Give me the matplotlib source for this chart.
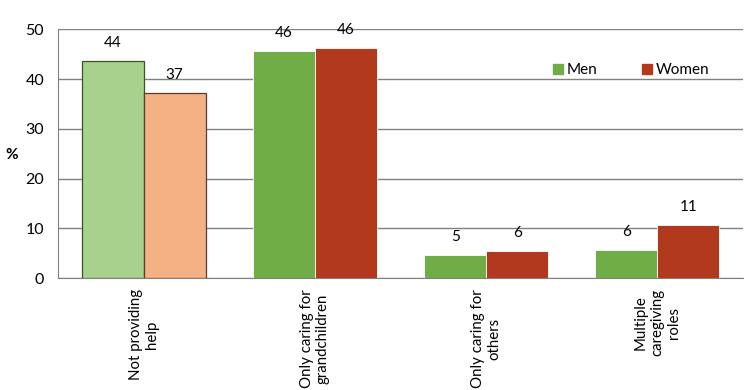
import matplotlib
matplotlib.use("Agg")
import matplotlib.pyplot as plt
import numpy as np
from matplotlib.lines import Line2D

plt.rcParams['font.family'] = ['Lato', 'DejaVu Sans']

categories = ["Not providing\nhelp", "Only caring for\ngrandchildren",
              "Only caring for\nothers", "Multiple\ncaregiving\nroles"]
men = [43.7, 45.6, 4.7, 5.7]
women = [37.1, 46.2, 5.5, 10.6]
men_labels = ["44", "46", "5", "6"]
women_labels = ["37", "46", "6", "11"]
yticks = [0, 10, 20, 30, 40, 50]

men_colors = ["#A9D18E", "#70AD47", "#70AD47", "#70AD47"]
women_colors = ["#F4B183", "#B0391E", "#B0391E", "#B0391E"]
men_edges = ["#375623", "white", "white", "white"]
women_edges = ["#5a3a2a", "white", "white", "white"]
edge_w = [0.9, 0.6, 0.6, 0.6]

fig = plt.figure(figsize=(7.56, 3.90), dpi=100)
ax = fig.add_axes([0.0767, 0.287, 0.906, 0.638])

x = np.arange(len(categories))
w = 0.362
for i in range(len(categories)):
    ax.bar(x[i] - w / 2, men[i], w, color=men_colors[i], edgecolor=men_edges[i],
           linewidth=edge_w[i], zorder=3)
    ax.bar(x[i] + w / 2, women[i], w, color=women_colors[i], edgecolor=women_edges[i],
           linewidth=edge_w[i], zorder=3)
    ax.annotate(men_labels[i], (x[i] - w / 2, men[i]), xytext=(0, 13),
                textcoords="offset points", ha="center", va="center", fontsize=11)
    ax.annotate(women_labels[i], (x[i] + w / 2, women[i]), xytext=(0, 13),
                textcoords="offset points", ha="center", va="center", fontsize=11)

ax.set_xlim(-0.5, 3.5)
ax.set_ylim(0, 50)
ax.set_yticks(yticks)
ax.set_yticklabels([str(t) for t in yticks], fontsize=11.5)
ax.set_xticks(x)
ax.set_xticklabels(categories, rotation=90, ha="center", va="top",
                   multialignment="center", fontsize=10.8, linespacing=1.2)
ax.tick_params(axis="y", length=0, pad=10)
ax.tick_params(axis="x", length=0, pad=8)
ax.yaxis.grid(True, color="#808080", linewidth=1.0, zorder=0)
ax.set_axisbelow(True)
for s in ["top", "right"]:
    ax.spines[s].set_visible(False)
ax.spines["left"].set_color("#808080")
ax.spines["bottom"].set_color("#808080")

fig.text(12 / 756, 1 - 155 / 390, "%", fontsize=11, fontweight="bold",
         ha="center", va="center")

handles = [Line2D([], [], marker="s", linestyle="none", markersize=7, color="#70AD47"),
           Line2D([], [], marker="s", linestyle="none", markersize=7, color="#B0391E")]
ax.legend(handles, ["Men", "Women"], loc="center", bbox_to_anchor=(0.835, 0.835),
          ncol=2, frameon=False, fontsize=11, handletextpad=0.1, columnspacing=2.7,
          handlelength=1.0)

fig.savefig("out.png", dpi=100)
